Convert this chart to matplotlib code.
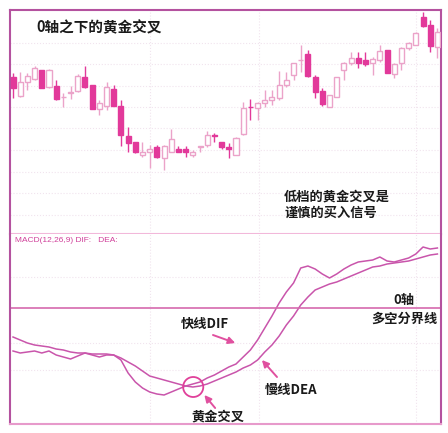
# MACD golden cross below the zero axis

import numpy as np
import matplotlib
matplotlib.use('Agg')
import matplotlib.pyplot as plt
from matplotlib.patches import Ellipse

plt.rcParams['font.family'] = ['Noto Sans CJK SC', 'DejaVu Sans']

# - - - candle data (60 days)
opens  = [15.7, 13.8, 15.2, 15.5, 16.4, 14.7, 14.8, 13.65, 14.1, 14.3,
          15.7, 14.9, 12.5, 12.8, 14.5, 12.8, 9.8, 9.2, 7.9, 8.2,
          8.7, 7.6, 8.2, 8.5, 8.5, 7.9, 8.75, 8.9, 9.9, 9.2,
          8.7, 7.9, 10.0, 12.7, 12.6, 13.1, 13.4, 13.6, 14.9, 15.9,
          17.35, 18.0, 15.7, 14.3, 12.7, 13.7, 16.4, 17.1, 17.6, 17.4,
          17.1, 17.4, 18.4, 16.0, 17.1, 18.6, 18.9, 21.7, 20.9, 18.7]
closes = [14.6, 15.2, 15.8, 16.6, 14.6, 16.4, 13.5, 13.7, 14.2, 15.8,
          14.7, 12.5, 13.1, 14.7, 12.8, 9.9, 9.1, 8.2, 8.2, 8.5,
          7.7, 8.8, 9.5, 8.2, 8.2, 8.2, 8.8, 9.9, 9.85, 8.7,
          8.5, 9.6, 12.6, 12.65, 13.1, 13.4, 13.7, 14.9, 15.4, 17.1,
          17.4, 15.8, 14.2, 13.0, 13.9, 15.7, 17.1, 17.6, 17.1, 17.0,
          17.5, 18.3, 16.1, 17.0, 18.6, 19.1, 20.1, 20.8, 18.8, 20.2]
highs  = [16.1, 16.2, 16.1, 16.8, 16.4, 16.5, 15.4, 14.1, 14.8, 16.0,
          16.8, 14.9, 13.4, 15.2, 14.9, 13.4, 10.7, 9.2, 9.2, 8.9,
          8.9, 8.9, 10.5, 8.8, 8.8, 8.4, 8.8, 10.3, 10.1, 9.2,
          9.1, 9.7, 13.2, 13.5, 13.2, 14.4, 14.4, 16.3, 16.2, 17.1,
          18.9, 18.4, 15.9, 14.6, 13.9, 15.7, 17.2, 18.2, 18.2, 18.2,
          17.7, 18.9, 18.4, 17.1, 18.7, 19.2, 20.2, 22.2, 21.4, 20.6]
lows   = [13.6, 13.7, 14.4, 15.4, 14.6, 14.6, 13.4, 12.7, 13.5, 14.2,
          14.6, 12.5, 11.9, 12.4, 12.8, 8.8, 8.2, 8.1, 7.7, 6.6,
          7.6, 6.4, 8.2, 8.2, 7.7, 7.7, 8.2, 8.7, 9.2, 8.5,
          7.6, 7.9, 9.9, 11.4, 11.4, 12.7, 12.9, 13.4, 14.7, 15.4,
          16.2, 15.7, 13.6, 12.8, 12.7, 13.7, 15.4, 16.9, 16.6, 16.8,
          15.9, 17.2, 16.1, 15.6, 16.4, 18.4, 18.9, 20.7, 18.2, 17.6]

# - - - MACD data
dif = [-0.43, -0.45, -0.44, -0.43, -0.45, -0.43, -0.47, -0.49, -0.51, -0.48,
       -0.45, -0.47, -0.49, -0.47, -0.47, -0.52, -0.65, -0.74, -0.80, -0.84,
       -0.86, -0.87, -0.84, -0.81, -0.78, -0.76, -0.74, -0.70, -0.67, -0.63,
       -0.59, -0.56, -0.49, -0.42, -0.32, -0.20, -0.08, 0.05, 0.16, 0.25,
       0.40, 0.42, 0.39, 0.34, 0.30, 0.34, 0.39, 0.43, 0.46, 0.47,
       0.48, 0.51, 0.47, 0.46, 0.48, 0.50, 0.54, 0.61, 0.59, 0.60]
dea = [-0.29, -0.32, -0.35, -0.37, -0.38, -0.39, -0.41, -0.42, -0.44, -0.45,
       -0.45, -0.46, -0.46, -0.46, -0.47, -0.50, -0.54, -0.58, -0.63, -0.68,
       -0.70, -0.72, -0.74, -0.76, -0.78, -0.79, -0.78, -0.76, -0.73, -0.70,
       -0.67, -0.64, -0.60, -0.57, -0.52, -0.44, -0.37, -0.28, -0.17, -0.08,
       0.03, 0.11, 0.18, 0.21, 0.24, 0.26, 0.29, 0.32, 0.35, 0.38,
       0.41, 0.42, 0.44, 0.45, 0.46, 0.47, 0.49, 0.51, 0.53, 0.54]

up_col = '#eba3c9'
down_col = '#e2399a'
line_col = '#c955ab'
frame_col = '#b4529f'
grid_col = '#f1e4ee'

W, H = 448, 433
fig = plt.figure(figsize=(W / 100, H / 100), dpi=100)
ax1 = fig.add_axes([10 / W, (H - 234) / H, 431 / W, 224 / H])
ax2 = fig.add_axes([10 / W, (H - 424) / H, 431 / W, 190 / H])

x = np.arange(len(opens))
o = np.array(opens)
c = np.array(closes)
up = c >= o

# - - - candles
for i in x:
    col = up_col if up[i] else down_col
    lo, hi = min(o[i], c[i]), max(o[i], c[i])
    ax1.vlines(i, lows[i], lo, color=col, lw=1, zorder=2)
    ax1.vlines(i, hi, highs[i], color=col, lw=1, zorder=2)
    h = max(hi - lo, 0.06)
    if up[i]:
        ax1.bar(i, h, bottom=lo, width=0.7, facecolor='white',
                edgecolor=col, lw=1, zorder=3)
    else:
        ax1.bar(i, h, bottom=lo, width=0.7, facecolor=col,
                edgecolor=col, lw=1, zorder=3)

ax1.set_xlim(-0.42, 59.5)
ax1.set_ylim(0, 22.4)
for g in [19.1, 17.0, 14.8, 12.7, 10.6, 8.4, 6.2, 4.1, 1.9]:
    ax1.axhline(g, color=grid_col, lw=0.8, ls=':', zorder=0)
for g in [19.0, 34.2, 56.0]:
    ax1.axvline(g, color=grid_col, lw=0.8, ls=':', zorder=0)

ax1.text(3.2, 20.7, '0轴之下的黄金交叉', fontsize=10.5, fontweight='bold',
         color='#1a1a1a', va='center')
ax1.text(37.7, 3.7, '低档的黄金交叉是', fontsize=9.5, fontweight='bold',
         color='#1a1a1a', va='center')
ax1.text(37.7, 2.1, '谨慎的买入信号', fontsize=9.5, fontweight='bold',
         color='#1a1a1a', va='center')

# - - - MACD panel
ax2.plot(x, dif, color=line_col, lw=1.1)
ax2.plot(x, dea, color=line_col, lw=1.1)
ax2.axhline(0, color='#d56aae', lw=1.2)
ax2.set_xlim(-0.42, 59.5)
ax2.set_ylim(-1.16, 0.74)
for g in [0.31, -0.35, -0.62]:
    ax2.axhline(g, color=grid_col, lw=0.8, ls=':', zorder=0)
for g in [19.0, 34.2, 56.0]:
    ax2.axvline(g, color=grid_col, lw=0.8, ls=':', zorder=0)

ax2.text(0.3, 0.68, 'MACD(12,26,9) DIF:   DEA:', fontsize=6,
         color='#d0409a', va='center', family=['Liberation Sans'])

ax2.add_patch(Ellipse((25.05, -0.79), 2.8, 0.2, fill=False,
                      edgecolor='#e0409a', lw=1.3, zorder=4))

# - - - annotations
ann = dict(fontsize=9.5, fontweight='bold', color='#1a1a1a',
           va='center', ha='center')
arr = dict(arrowstyle='-|>', color='#e0509f', lw=1.4, mutation_scale=10,
           shrinkA=0, shrinkB=0)
ax2.text(26.7, -0.16, '快线DIF', **ann)
ax2.annotate('', xy=(30.9, -0.35), xytext=(27.8, -0.27), arrowprops=arr)
ax2.text(38.7, -0.82, '慢线DEA', **ann)
ax2.annotate('', xy=(34.6, -0.52), xytext=(36.7, -0.69), arrowprops=arr)
ax2.text(28.5, -1.09, '黄金交叉', **ann)
ax2.annotate('', xy=(26.6, -0.87), xytext=(28.1, -1.00), arrowprops=arr)
ax2.text(54.4, 0.08, '0轴', **ann)
ax2.text(54.4, -0.11, '多空分界线', **ann)

# - - - frame
for a in (ax1, ax2):
    a.set_xticks([])
    a.set_yticks([])
    for s in a.spines.values():
        s.set_color(frame_col)
        s.set_linewidth(1.5)
ax1.spines['bottom'].set_color('#f2b8da')
ax2.spines['top'].set_visible(False)
ax2.spines['bottom'].set_color('#e79acb')

plt.savefig('out.png', dpi=100)
